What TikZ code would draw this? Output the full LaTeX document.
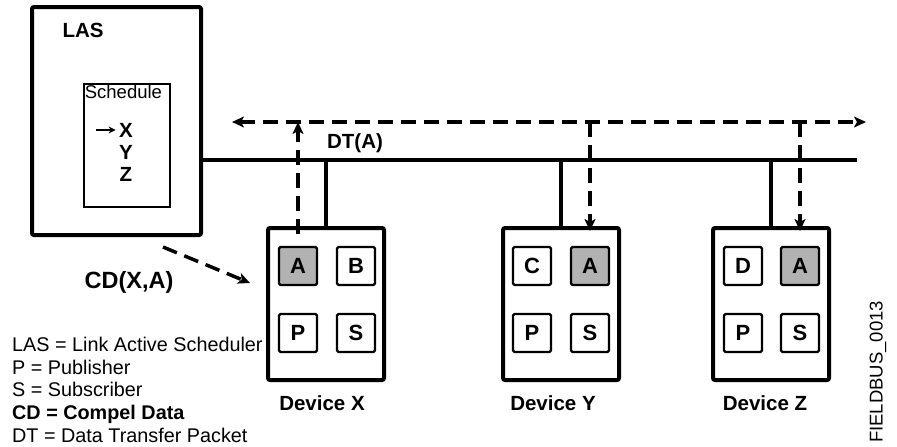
\documentclass[tikz,border=0pt]{standalone}
\usepackage{fontspec}
\setmainfont{Liberation Sans}
\usetikzlibrary{arrows.meta}

\begin{document}
\begin{tikzpicture}[x=1pt, y=-1pt,
    >={Stealth[length=12pt, width=11pt, inset=3pt]},
    box/.style={draw, line width=4pt, rounded corners=2pt},
    dev/.style={box, minimum width=116pt, minimum height=152pt},
    blk/.style={draw, line width=2.2pt, rounded corners=1.5pt, minimum size=38pt, inner sep=0pt, font=\fontsize{22}{22}\selectfont\bfseries},
    pub/.style={blk, fill=black!30},
    lbl/.style={font=\fontsize{20.5}{24}\selectfont\bfseries},
    bus/.style={line width=3.5pt},
    pkt/.style={line width=3.5pt, dash pattern=on 15pt off 8pt}
]
    \useasboundingbox (0,0) rectangle (897,447);

    % scheduler
    \node[box, minimum width=169pt, minimum height=228pt] (las) at (116.5,121) {};
    \node[lbl] (laslbl) at (83,30) {LAS};
    \node[draw, line width=1.7pt, minimum width=86pt, minimum height=123pt] (sched) at (127,145.5) {};
    \node[anchor=north west, inner sep=1.5pt, font=\fontsize{18.5}{18.5}\selectfont] (schedlbl) at (sched.north west) {Schedule};
    \node[lbl] (sx) at (126,130) {X};
    \node[lbl] (sy) at (126,152) {Y};
    \node[lbl] (sz) at (126,174) {Z};
    \coordinate (ptr) at (96,130);
    \draw[line width=1.7pt, -{Stealth[length=7pt, width=7pt]}] (ptr) -- (sx.west);

    % devices
    \node[dev] (devX) at (326,304) {};
    \node[dev] (devY) at (561,304) {};
    \node[dev] (devZ) at (771,304) {};

    \node[pub] (xa) at (298,266) {A};
    \node[blk] (xb) at (356,266) {B};
    \node[blk] (xp) at (298,333) {P};
    \node[blk] (xs) at (356,333) {S};

    \node[blk] (yc) at (532,266) {C};
    \node[pub] (ya) at (590,266) {A};
    \node[blk] (yp) at (532,333) {P};
    \node[blk] (ys) at (590,333) {S};

    \node[blk] (zd) at (743,266) {D};
    \node[pub] (za) at (800,266) {A};
    \node[blk] (zp) at (743,333) {P};
    \node[blk] (zs) at (800,333) {S};

    \node[lbl] (xlbl) at (322,403) {Device X};
    \node[lbl] (ylbl) at (553,403) {Device Y};
    \node[lbl] (zlbl) at (765,403) {Device Z};

    % bus
    \coordinate (busend) at (857,160);
    \draw[bus] (las.east |- busend) -- (busend);
    \draw[bus] (devX.north) -- (devX.north |- busend);
    \draw[bus] (devY.north) -- (devY.north |- busend);
    \draw[bus] (devZ.north) -- (devZ.north |- busend);

    % data transfer
    \coordinate (dtL) at (232,122);
    \coordinate (dtR) at (866,122);
    \draw[pkt, <->] (dtL) -- (dtR);
    \draw[pkt, ->] ([yshift=-8pt]xa.north |- devX.north) -- (xa.north |- dtL);
    \draw[pkt, ->] (ya.north |- dtL) -- ([yshift=-5pt]ya.north |- devY.north);
    \draw[pkt, ->] (za.north |- dtL) -- ([yshift=-5pt]za.north |- devZ.north);
    \node[lbl] (dt) at (355,143) {DT(A)};

    % compel data
    \coordinate (cdS) at (163,247);
    \coordinate (cdE) at (250,283);
    \draw[pkt, ->] (cdS) -- (cdE);
    \node[font=\fontsize{23.5}{23.5}\selectfont\bfseries] (cd) at (129,282) {CD(X,A)};

    \node[anchor=north west, align=left, inner sep=0pt, font=\fontsize{19.8}{22.7}\selectfont] (legend) at (12,337) {LAS = Link Active Scheduler\\ P = Publisher\\ S = Subscriber\\ \textbf{CD = Compel Data}\\ DT = Data Transfer Packet};
    \node[rotate=90, font=\fontsize{18.5}{18.5}\selectfont] (fig) at (878,372) {FIELDBUS\_0013};
\end{tikzpicture}
\end{document}
